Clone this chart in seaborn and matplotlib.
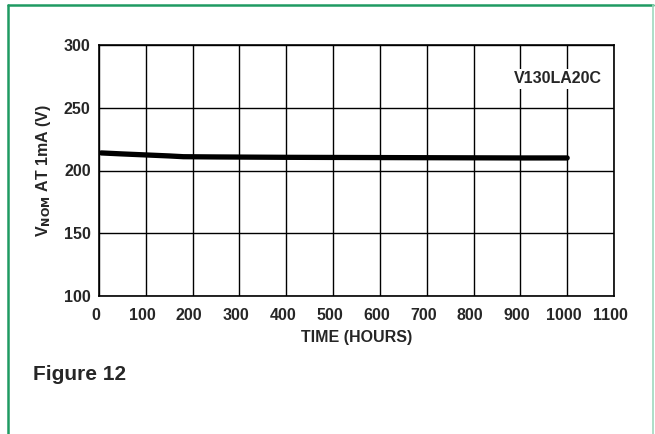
import matplotlib
matplotlib.use("Agg")
import matplotlib.pyplot as plt
import seaborn as sns
import pandas as pd
from matplotlib.lines import Line2D
import matplotlib.transforms as mtransforms

sns.set_style("white")
plt.rcParams['font.family'] = ['Liberation Sans', 'DejaVu Sans']

hours = [5, 50, 100, 150, 180, 250, 300, 400, 500, 600, 700, 800, 900, 1000]
vnom = [214.0, 213.2, 212.4, 211.6, 211.0, 210.8, 210.7, 210.5, 210.4, 210.3, 210.2, 210.1, 210.0, 210.0]
x_ticks = [0, 100, 200, 300, 400, 500, 600, 700, 800, 900, 1000, 1100]
y_ticks = [100, 150, 200, 250, 300]
part_label = "V130LA20C"

df = pd.DataFrame({"hours": hours, "vnom": vnom})

fig = plt.figure(figsize=(6.55, 4.34), dpi=100)
ax = fig.add_axes([99/655, 1-296/434, (614-99)/655, (296-45)/434])

sns.lineplot(data=df, x="hours", y="vnom", ax=ax, color="black", linewidth=3.8, zorder=3)

ax.set_xlim(0, 1100)
ax.set_ylim(100, 300)
ax.set_xticks(x_ticks)
ax.set_yticks(y_ticks)
ax.set_xticklabels([str(t) for t in x_ticks], fontsize=11.5, fontweight="bold")
ax.set_yticklabels([str(t) for t in y_ticks], fontsize=11.5, fontweight="bold")
ax.grid(True, color="black", linewidth=1.0)
for s in ax.spines.values():
    s.set_color("black")
    s.set_linewidth(1.2)
ax.tick_params(axis="y", length=0, pad=6)
ax.tick_params(axis="x", length=0, pad=8.5)
offset = mtransforms.ScaledTranslation(-3.5/100, 0, fig.dpi_scale_trans)
for lbl in ax.get_xticklabels():
    lbl.set_transform(lbl.get_transform() + offset)

ax.set_xlabel("TIME (HOURS)", fontsize=11.5, fontweight="bold", labelpad=5)
ax.set_ylabel(r"V$_{\mathbf{NOM}}$ AT 1mA (V)", fontsize=11.5, fontweight="bold", labelpad=8)

ax.text(980, 273, part_label, fontsize=11.5, fontweight="bold", ha="center", va="center",
        zorder=4, bbox=dict(facecolor="white", edgecolor="none", pad=2))

fig.text(33/655, 1-375/434, "Figure 12", fontsize=15, fontweight="bold", ha="left", va="center")

green = "#1f9a62"
fig.add_artist(Line2D([8/655, 8/655], [0, 1-5/434], color=green, linewidth=1.8, transform=fig.transFigure))
fig.add_artist(Line2D([8/655, 653/655], [1-5/434, 1-5/434], color=green, linewidth=1.8, transform=fig.transFigure))
fig.add_artist(Line2D([653/655, 653/655], [0, 1-5/434], color="#9fd8bd", linewidth=1.2, transform=fig.transFigure))

fig.savefig("out.png", dpi=100)
